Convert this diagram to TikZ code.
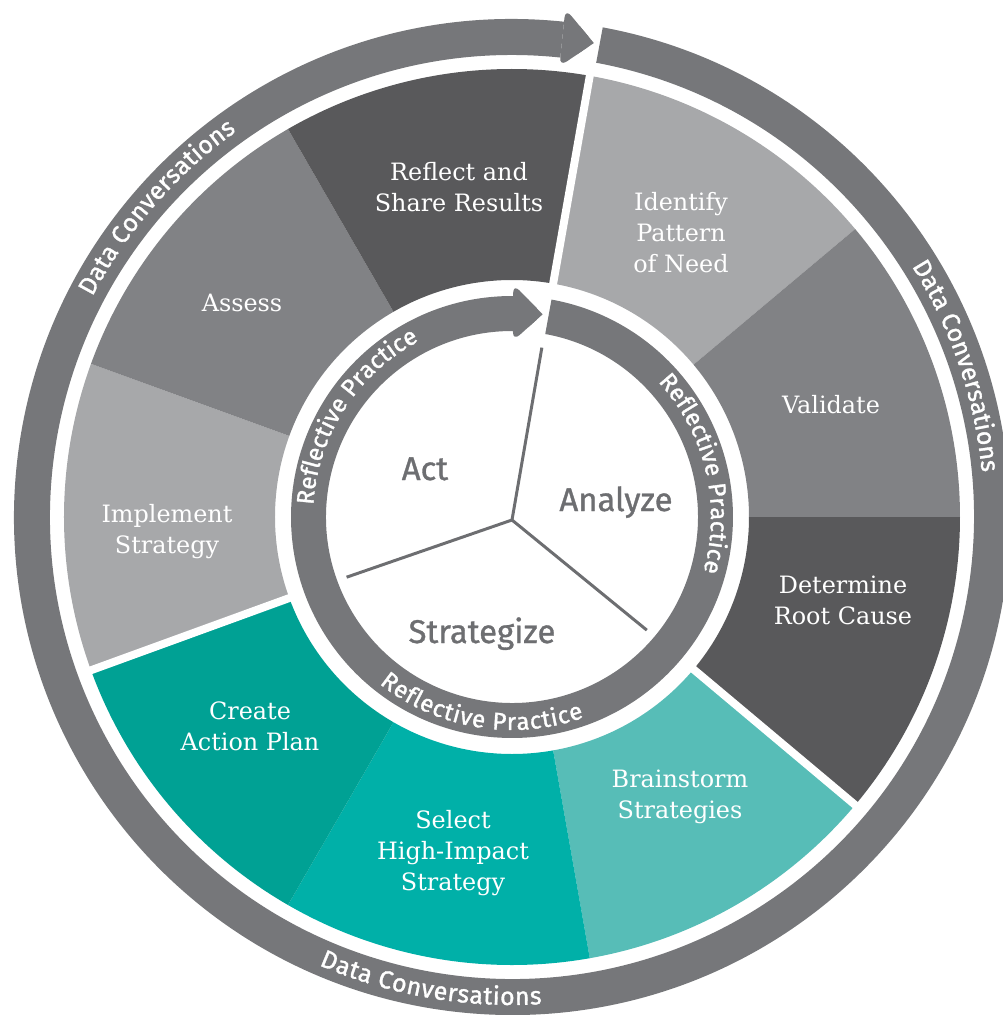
\documentclass[tikz,border=0pt]{standalone}
\usepackage{fontspec}
\usetikzlibrary{calc,decorations.text}
\newfontfamily\slabfont{DejaVu Serif}
\newfontfamily\ringfont[FakeBold=1.3]{Fira Sans}
\newfontfamily\phasefont[FakeBold=1]{Fira Sans}
\definecolor{ringgray}{HTML}{76777A}
\definecolor{segdark}{HTML}{59595B}
\definecolor{segmid}{HTML}{818285}
\definecolor{seglight}{HTML}{A7A8AA}
\definecolor{tealpale}{HTML}{57BDB7}
\definecolor{tealmid}{HTML}{00B0A8}
\definecolor{tealdeep}{HTML}{00A194}
\definecolor{spokegray}{HTML}{6D6E71}

\begin{document}
\begin{tikzpicture}[x=0.02cm,y=0.02cm,
  stage node/.style={text=white,font=\slabfont\fontsize{13.6}{17.6}\selectfont,align=center},
  phase node/.style={text=spokegray,font=\phasefont\fontsize{18.7}{22}\selectfont,anchor=base},
  ring text/.style 2 args={decorate,decoration={text along path,text align={fit to path},text color=white,
    text={|\ringfont\fontsize{#1}{16}\selectfont|#2}}}]

  \useasboundingbox (-512,-498) rectangle (491,517);

  % outer ring with its arrow
  \fill[ringgray] (79.5:462) arc[start angle=79.5,end angle=-276,radius=462]
    -- (-276:498) arc[start angle=-276,end angle=79.5,radius=498] -- cycle;
  \coordinate (otip) at (80.2:481);
  \coordinate (oback1) at (84:511);
  \coordinate (oback2) at (84:453);
  \fill[ringgray,rounded corners=5pt] (otip) -- (oback1) -- (oback2) -- cycle;
  \fill[ringgray] (otip) -- ($(otip)!0.5!(oback1)$) -- ($(otip)!0.5!(oback2)$) -- cycle;

  % the nine stages
  \foreach \a/\c [evaluate=\a as \b using \a-40] in
    {80/seglight,40/segmid,0/segdark,-40/tealpale,-80/tealmid,-120/tealdeep,-160/seglight,-200/segmid,-240/segdark}
    \fill[\c] (\a:237) arc[start angle=\a,end angle=\b,radius=237]
      -- (\b:448) arc[start angle=\b,end angle=\a,radius=448] -- cycle;
  \foreach \a in {80,-40,200}
    \draw[white,line width=4.5pt] (\a:228) -- (\a:456);

  % inner ring with its arrow
  \fill[ringgray] (79.7:186) arc[start angle=79.7,end angle=-270.3,radius=186]
    -- (-270.3:221) arc[start angle=-270.3,end angle=79.7,radius=221] -- cycle;
  \coordinate (itip) at (81.4:205);
  \coordinate (iback1) at (89.7:233);
  \coordinate (iback2) at (89.7:176);
  \fill[ringgray,rounded corners=5pt] (itip) -- (iback1) -- (iback2) -- cycle;
  \fill[ringgray] (itip) -- ($(itip)!0.5!(iback1)$) -- ($(itip)!0.5!(iback2)$) -- cycle;

  % spokes
  \coordinate (hub) at (0,-3);
  \foreach \a/\r/\n in {80/172/spokeA,200/176/spokeB,-40/176/spokeC} {
    \coordinate (\n) at (\a:\r);
    \draw[spokegray,line width=1.7pt] (hub) -- (\n);
  }

  \path[ring text={14.2}{Data Conversations}] (152.3:474) arc[start angle=152.3,end angle=125.5,radius=474];
  \path[ring text={14.2}{Data Conversations}] (32.1:472) arc[start angle=32.1,end angle=5.4,radius=472];
  \path[ring text={14.2}{Data Conversations}] (-113.3:488) arc[start angle=-113.3,end angle=-86.5,radius=488];
  \path[ring text={13.7}{Reflective Practice}] (176.6:199) arc[start angle=176.6,end angle=117.8,radius=199];
  \path[ring text={13.7}{Reflective Practice}] (42.8:199) arc[start angle=42.8,end angle=-16,radius=199];
  \path[ring text={13.7}{Reflective Practice}] (-128.5:213) arc[start angle=-128.5,end angle=-70.2,radius=213];

  \node[stage node] (reflect) at (-53,330) {Reflect and\\Share Results};
  \node[stage node] (identify) at (169,284) {Identify\\Pattern\\of Need};
  \node[stage node] (validate) at (319,112) {Validate};
  \node[stage node] (rootcause) at (331,-83) {Determine\\Root Cause};
  \node[stage node] (brainstorm) at (168,-280) {Brainstorm\\Strategies};
  \node[stage node] (select) at (-59,-336) {Select\\High-Impact\\Strategy};
  \node[stage node] (actionplan) at (-262,-209) {Create\\Action Plan};
  \node[stage node] (implement) at (-345,-15) {Implement\\Strategy};
  \node[stage node] (assess) at (-270,214) {Assess};

  \node[phase node] (act) at (-87,37) {Act};
  \node[phase node] (analyze) at (104,6) {Analyze};
  \node[phase node] (strategize) at (-30,-126) {Strategize};
\end{tikzpicture}
\end{document}
